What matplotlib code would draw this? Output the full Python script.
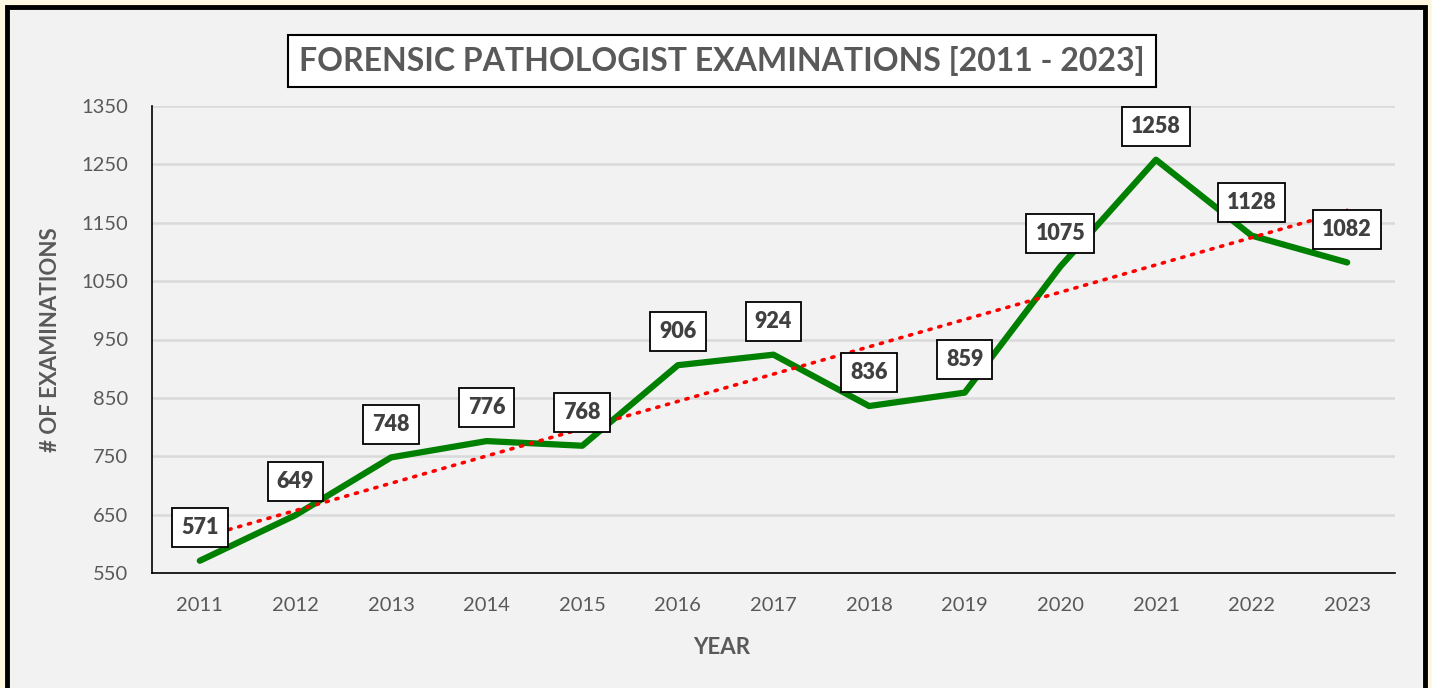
import matplotlib.pyplot as plt
import numpy as np
from matplotlib.patches import Rectangle

years = ["2011", "2012", "2013", "2014", "2015", "2016", "2017",
         "2018", "2019", "2020", "2021", "2022", "2023"]
exams = [571, 649, 748, 776, 768, 906, 924, 836, 859, 1075, 1258, 1128, 1082]
y_ticks = [550, 650, 750, 850, 950, 1050, 1150, 1250, 1350]

plt.rcParams["font.family"] = ["Lato", "DejaVu Sans"]
gray_text = "#595959"

fig = plt.figure(figsize=(14.32, 6.88), dpi=100, facecolor="#fff8e1")
W, H = 1432, 688

# chart panel with heavy black frame, kept behind the axes
fig.patches.append(Rectangle((7 / W, -0.05), (1418 / W), (681 / H) + 0.05,
                             transform=fig.transFigure, facecolor="#f2f2f2",
                             edgecolor="black", linewidth=3.5, zorder=-10))

ax = fig.add_axes([152 / W, 1 - 573 / H, (1395 - 152) / W, (573 - 106) / H])
ax.set_facecolor("#f2f2f2")

x = np.arange(len(years))
ax.plot(x, exams, color="#008000", linewidth=4.5, solid_capstyle="round", zorder=3)

# linear trendline
coef = np.polyfit(x, exams, 1)
ax.plot(x, np.polyval(coef, x), color="#ff0000", linestyle=(0, (0.6, 2.2)),
        linewidth=2.6, dash_capstyle="round", zorder=4)

for xi, val in zip(x, exams):
    ax.annotate(str(val), (xi, val), xytext=(0, 24), textcoords="offset points",
                ha="center", va="center", fontsize=15.5, fontweight="heavy",
                color="#404040", zorder=5,
                bbox=dict(boxstyle="square,pad=0.42", facecolor="white",
                          edgecolor="black", linewidth=1.3))

ax.set_xlim(-0.5, len(years) - 0.5)
ax.set_ylim(550, 1350)
ax.set_xticks(x)
ax.set_xticklabels(years)
ax.set_yticks(y_ticks)
ax.tick_params(axis="both", length=0, labelsize=14.5, colors=gray_text)
ax.tick_params(axis="x", pad=17)
ax.tick_params(axis="y", pad=17)
ax.grid(axis="y", color="#d9d9d9", linewidth=1.8)
ax.set_axisbelow(True)
for side in ["top", "right"]:
    ax.spines[side].set_visible(False)
for side in ["left", "bottom"]:
    ax.spines[side].set_color("black")
    ax.spines[side].set_linewidth(1.2)

fig.text(722 / W, 1 - 647 / H, "YEAR", ha="center", va="center",
         fontsize=16, fontweight="bold", color=gray_text)
fig.text(51 / W, 1 - 340 / H, "# OF EXAMINATIONS", ha="center", va="center",
         rotation=90, fontsize=16, fontweight="bold", color=gray_text)

fig.text(722 / W, 1 - 61 / H, "FORENSIC PATHOLOGIST EXAMINATIONS [2011 - 2023]",
         ha="center", va="center", fontsize=23, fontweight="bold", color=gray_text,
         bbox=dict(boxstyle="square,pad=0.35", facecolor="white",
                   edgecolor="black", linewidth=1.5))

fig.savefig("out.png", dpi=100, facecolor=fig.get_facecolor())
